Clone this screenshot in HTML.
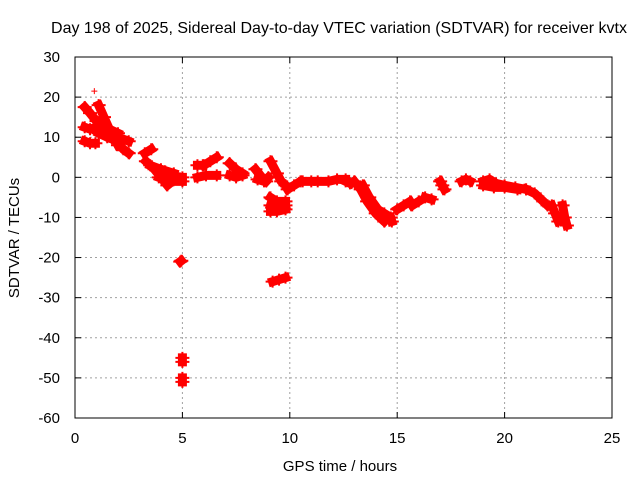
<!DOCTYPE html>
<html><head><meta charset="utf-8"><style>
body{margin:0;background:#fff}
svg{display:block;font-family:"Liberation Sans",sans-serif}
</style></head><body>
<svg id="chart" width="640" height="480" viewBox="0 0 640 480">
<text x="339" y="33" text-anchor="middle" font-size="16">Day 198 of 2025, Sidereal Day-to-day VTEC variation (SDTVAR) for receiver kvtx</text>
<g id="grid"></g>
<g id="ticks"></g>
<g id="marks"></g>
<rect x="75" y="57" width="537" height="361" fill="none" stroke="#000" stroke-width="1"/>
<text x="340" y="471" text-anchor="middle" font-size="15">GPS time / hours</text>
<text transform="translate(19,238) rotate(-90)" text-anchor="middle" font-size="15">SDTVAR / TECUs</text>
</svg>
<script>
const xTicks=[0,5,10,15,20,25];
const yTicks=[30,20,10,0,-10,-20,-30,-40,-50,-60];
const tracks=[
[[0.45,17.5],[0.7,16],[1.0,14]],
[[0.45,12.5],[0.7,12],[1.0,12.5]],
[[0.45,9],[0.7,8.5],[0.95,8.5]],
[[1.1,18],[1.35,15],[1.6,12],[1.8,10],[2.0,8]],
[[1.1,11],[1.5,10],[2.0,9]],
[[1.1,13],[1.6,12],[2.0,11]],
[[2.0,10],[2.5,9]],
[[2.0,8.5],[2.25,7],[2.5,6]],
[[3.25,6],[3.55,7]],
[[3.3,4],[3.7,2],[4.0,0],[4.3,-2]],
[[3.5,3],[4.0,2],[4.6,1]],
[[3.9,0],[4.4,-1],[5.0,-1]],
[[4.2,1.5],[4.6,0],[5.0,0]],
[[4.9,-21],[4.95,-20.8]],
[[5.0,-45],[5.0,-46]],
[[5.0,-50],[5.0,-51]],
[[5.7,3],[5.95,3]],
[[6.0,3],[6.3,4],[6.6,5]],
[[5.7,0],[6.1,0.5],[6.6,0.5]],
[[7.2,3.5],[7.5,2],[7.8,1]],
[[7.2,0.5],[7.5,0],[7.8,0.5]],
[[8.4,2],[8.7,0],[8.9,-1]],
[[8.5,-0.5],[8.8,-1],[9.0,0]],
[[9.1,4],[9.4,1],[9.6,-1],[9.8,-2]],
[[9.1,-5],[9.4,-6],[9.8,-6]],
[[9.1,-7],[9.4,-7.5],[9.8,-7]],
[[9.1,-8.5],[9.4,-8.5],[9.8,-8]],
[[9.2,-26],[9.5,-25.5],[9.8,-25]],
[[9.9,-3],[10.2,-2],[10.5,-1]],
[[10.6,-1],[11.0,-1]],
[[11.3,-1],[11.8,-1],[12.2,-0.5],[12.6,-0.5]],
[[12.6,-1],[12.8,-1.5]],
[[13.0,-1],[13.3,-3],[13.6,-6],[14.0,-9],[14.4,-11]],
[[13.4,-2],[13.7,-5],[14.1,-8],[14.4,-9]],
[[14.7,-10],[14.75,-11]],
[[15.0,-8],[15.3,-7],[15.6,-6]],
[[15.7,-7],[16.0,-6]],
[[16.3,-5],[16.6,-5.5]],
[[17.0,-1],[17.1,-2],[17.2,-3]],
[[18.0,-1],[18.2,-0.5],[18.4,-1]],
[[19.0,-1],[19.3,-0.5],[19.6,-1.5],[20.0,-2],[20.5,-2.5],[21.0,-3]],
[[19.0,-2],[19.5,-2.5],[20.0,-2.5],[20.6,-3]],
[[21.0,-3],[21.4,-4],[21.8,-6],[22.0,-7]],
[[22.2,-7],[22.35,-9],[22.5,-11]],
[[22.7,-7],[22.8,-10],[22.9,-12]]
];
const X=h=>75+h*537/25;
const Y=v=>57+(30-v)*361/90;
const NS='http://www.w3.org/2000/svg';
const grid=document.getElementById('grid'),ticks=document.getElementById('ticks'),marks=document.getElementById('marks');
function mk(t,a,p){const e=document.createElementNS(NS,t);for(const k in a)e.setAttribute(k,a[k]);p.appendChild(e);return e;}
xTicks.forEach(t=>{
 const x=X(t);
 if(t>0&&t<25){const g=mk('line',{x1:x,y1:57,x2:x,y2:418,stroke:'#a0a0a0','stroke-dasharray':'2,3'},grid);
 
 }
 const a=mk('line',{x1:x,y1:418,x2:x,y2:412,stroke:'#000'},ticks);
 
 
 const b=mk('line',{x1:x,y1:57,x2:x,y2:63,stroke:'#000'},ticks);
 
 
 const l=mk('text',{x:x,y:443,'text-anchor':'middle','font-size':15},ticks);l.textContent=t;
 
 
});
yTicks.forEach(t=>{
 const y=Y(t);
 if(t<30&&t>-60){const g=mk('line',{x1:75,y1:y,x2:612,y2:y,stroke:'#a0a0a0','stroke-dasharray':'2,3'},grid);
 
 }
 const a=mk('line',{x1:75,y1:y,x2:81,y2:y,stroke:'#000'},ticks);
 
 
 const b=mk('line',{x1:612,y1:y,x2:606,y2:y,stroke:'#000'},ticks);
 
 
 const l=mk('text',{x:60,y:y+5,'text-anchor':'end','font-size':15},ticks);l.textContent=t;
 
 
});
tracks.forEach(tr=>{
 const pts=tr.map(p=>X(p[0])+','+Y(p[1])).join(' ');
 const pl=mk('polyline',{points:pts,fill:'none',stroke:'#ff0000','stroke-width':9,'stroke-linecap':'square','stroke-linejoin':'round'},marks);
 
 
 tr.forEach(p=>{
  const x=X(p[0]),y=Y(p[1]);
  const m=mk('path',{d:`M${x-7},${y}H${x+7}M${x},${y-6}V${y+6}`,stroke:'#ff0000','stroke-width':2},marks);
  
  
 });
});
const o=mk('path',{d:`M${X(0.9)-3},${Y(21.5)}h6M${X(0.9)},${Y(21.5)-3}v6`,stroke:'#ff0000'},marks);


</script>
</body></html>
